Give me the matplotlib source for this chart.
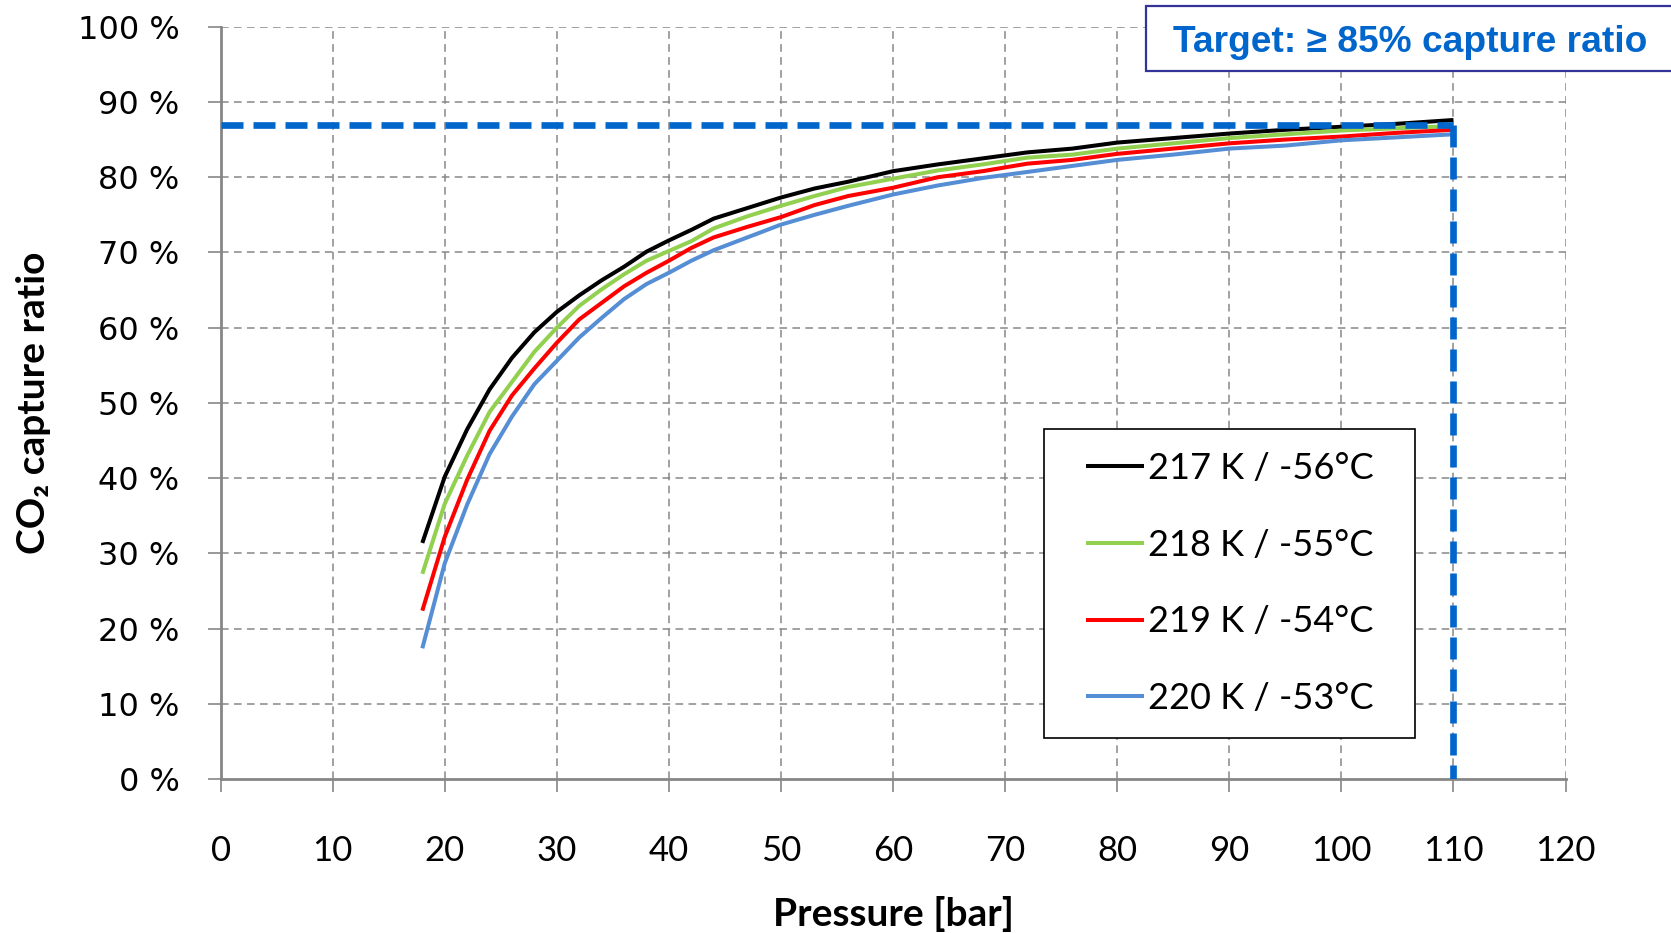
# CO2 capture ratio vs pressure

import numpy as np
import matplotlib
matplotlib.use('Agg')
import matplotlib.pyplot as plt
from matplotlib.patches import Rectangle

# data
pressure = [18, 20, 22, 24, 26, 28, 30, 32, 34, 36, 38, 40, 42, 44, 47, 50, 53, 56,
            60, 64, 68, 72, 76, 80, 85, 90, 95, 100, 105, 110]
ratio_217 = [31.4, 40.2, 46.5, 51.8, 56.0, 59.4, 62.1, 64.3, 66.3, 68.1, 70.1, 71.6, 73.0, 74.5,
             75.9, 77.3, 78.5, 79.4, 80.8, 81.7, 82.5, 83.3, 83.8, 84.6, 85.2, 85.8, 86.3, 86.7, 87.1, 87.6]
ratio_218 = [27.3, 36.6, 43.0, 48.8, 52.8, 56.8, 60.0, 62.9, 65.1, 67.1, 68.9, 70.2, 71.5, 73.2,
             74.8, 76.2, 77.5, 78.7, 79.8, 80.9, 81.7, 82.6, 83.0, 83.8, 84.5, 85.2, 85.7, 86.2, 86.5, 86.8]
ratio_219 = [22.4, 32.2, 39.8, 46.3, 51.0, 54.6, 58.0, 61.1, 63.3, 65.5, 67.3, 68.9, 70.6, 72.0,
             73.4, 74.7, 76.3, 77.5, 78.6, 80.0, 80.8, 81.8, 82.3, 83.1, 83.8, 84.5, 85.0, 85.4, 85.9, 86.3]
ratio_220 = [17.4, 28.7, 36.5, 43.2, 48.2, 52.5, 55.6, 58.7, 61.3, 63.8, 65.8, 67.3, 68.9, 70.3,
             72.0, 73.7, 75.0, 76.2, 77.7, 78.9, 79.9, 80.7, 81.5, 82.3, 83.0, 83.8, 84.2, 84.9, 85.3, 85.7]
labels = ['217 K / -56°C', '218 K / -55°C', '219 K / -54°C', '220 K / -53°C']
colors = ['#000000', '#92D050', '#FF0000', '#558ED5']

target_pressure = 110
target_ratio = 87
target_text = 'Target: ≥ 85% capture ratio'

xticks = list(range(0, 121, 10))
yticks = list(range(0, 101, 10))

W, H = 1671, 933
fig = plt.figure(figsize=(W / 100, H / 100), dpi=100)
ax = fig.add_axes([0.1320, 0.1648, 0.8049, 0.8066])

# grid
for v in xticks[1:]:
    ax.axvline(v, color='#878787', lw=1.1, dashes=(5, 3.5), zorder=1)
for v in yticks[1:]:
    ax.axhline(v, color='#878787', lw=1.1, dashes=(5, 3.5), zorder=1)

series = [ratio_217, ratio_218, ratio_219, ratio_220]
for s, lab, c in zip(series, labels, colors):
    ax.plot(pressure, s, color=c, lw=2.9, label=lab, zorder=3,
            solid_joinstyle='round', solid_capstyle='butt')

# target lines
ax.plot([0, target_pressure], [target_ratio, target_ratio], color='#0066CC', lw=4.8,
        dashes=(3.3, 1.5), zorder=4, dash_capstyle='butt')
ax.plot([target_pressure, target_pressure], [target_ratio, 0], color='#0066CC', lw=4.8,
        dashes=(3.3, 1.5), zorder=4, dash_capstyle='butt')

ax.set_xlim(0, 120)
ax.set_ylim(0, 100)
ax.set_xticks(xticks)
ax.set_yticks(yticks)
ax.set_yticklabels([f'{v} %' for v in yticks], fontsize=23, family='DejaVu Sans')
ax.set_xticklabels([str(v) for v in xticks], fontsize=25, family='Lato')

for side in ['top', 'right']:
    ax.spines[side].set_visible(False)
for side in ['left', 'bottom']:
    ax.spines[side].set_color('#868686')
    ax.spines[side].set_linewidth(2.0)
ax.tick_params(axis='y', length=9.5, width=1.2, color='#868686', pad=20)
ax.tick_params(axis='x', length=9, width=1.2, color='#868686', pad=31)

ax.set_xlabel('Pressure [bar]', fontsize=28, family='Lato', fontweight='bold')
ax.xaxis.set_label_coords(0.5, -0.1795)
ax.xaxis.label.set_va('center')
ax.set_ylabel('CO₂ capture ratio', fontsize=28, family=['Lato', 'DejaVu Sans'], fontweight='bold')
ax.yaxis.set_label_coords(-0.139, 0.5)
ax.yaxis.label.set_va('center')

# legend box drawn separately, entries centred inside it
lx0, lx1, ly0, ly1 = 1044.4, 1415.3, 429.5, 737.5
box = (lx0 / W, 1 - ly1 / H, (lx1 - lx0) / W, (ly1 - ly0) / H)
ax.add_patch(Rectangle(box[:2], box[2], box[3], transform=fig.transFigure,
                       facecolor='white', edgecolor='black', lw=1.2, zorder=5,
                       clip_on=False))
leg = ax.legend(loc='center', bbox_to_anchor=box, bbox_transform=fig.transFigure,
                borderaxespad=0, borderpad=0, frameon=False,
                prop={'family': 'Lato', 'size': 26},
                handlelength=1.6, handletextpad=0.1, labelspacing=1.21)
leg.set_zorder(6)

# target box at top right
fig.patches.append(Rectangle((1146 / W, 1 - 71 / H), 0.4, 65 / H,
                             transform=fig.transFigure, facecolor='white',
                             edgecolor='#333399', lw=1.6, zorder=6))
fig.text(1173 / W, 1 - 42 / H, target_text, color='#0066CC', fontsize=26.7,
         family=['Liberation Sans', 'DejaVu Sans'], fontweight='bold',
         ha='left', va='center', zorder=7)

fig.savefig('out.png', dpi=100)
